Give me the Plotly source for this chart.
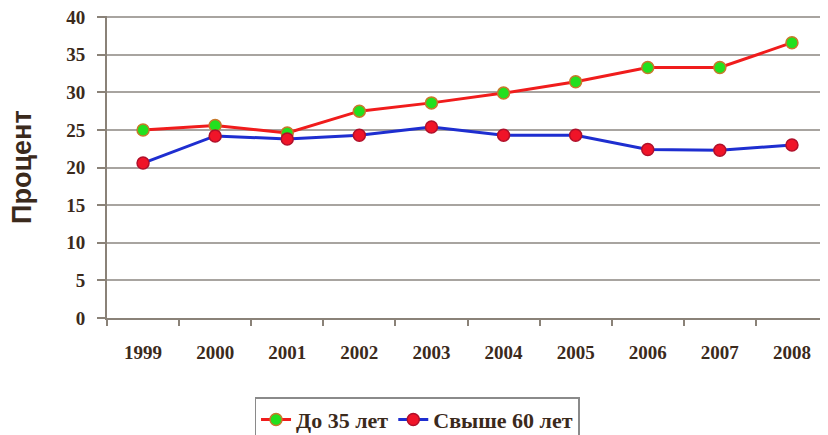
import plotly.graph_objects as go

years = ["1999", "2000", "2001", "2002", "2003", "2004", "2005", "2006", "2007", "2008"]
under35 = [25.0, 25.6, 24.6, 27.5, 28.6, 29.9, 31.4, 33.3, 33.3, 36.6]
over60 = [20.6, 24.2, 23.8, 24.3, 25.4, 24.3, 24.3, 22.4, 22.3, 23.0]
y_ticks = [0, 5, 10, 15, 20, 25, 30, 35, 40]

txt_color = "#3b2a1c"
serif = "Liberation Serif, Times New Roman, serif"

fig = go.Figure()
fig.add_trace(go.Scatter(
    x=years, y=under35, name="До 35 лет", mode="lines+markers",
    line=dict(color="#f01c1c", width=3),
    marker=dict(size=12, color="#22e01e", line=dict(color="#c8782a", width=1.5)),
))
fig.add_trace(go.Scatter(
    x=years, y=over60, name="Свыше 60 лет", mode="lines+markers",
    line=dict(color="#1e2ed0", width=3),
    marker=dict(size=12, color="#f01428", line=dict(color="#b0102a", width=1.5)),
))

fig.update_layout(
    width=820, height=427,
    margin=dict(l=99, r=0, t=8, b=117, autoexpand=False),
    paper_bgcolor="white", plot_bgcolor="white",
    showlegend=True,
    legend=dict(
        orientation="h", x=0.43, xanchor="center", y=-0.262, yanchor="top",
        font=dict(family=serif, size=22, color=txt_color, weight="bold"),
        bordercolor="#8a8a8a", borderwidth=1.5, bgcolor="white",
        tracegroupgap=0, itemwidth=30,
    ),
    xaxis=dict(
        type="category", showgrid=False, showline=True, linecolor="#8a8278", linewidth=2,
        ticks="outside", ticklen=6, tickwidth=2, tickcolor="#8a8278", tickson="boundaries",
        tickfont=dict(family=serif, size=19, color=txt_color, weight="bold"),
        ticklabelstandoff=16, range=[-0.5, 9.5], automargin=False,
    ),
    yaxis=dict(
        range=[0, 40.15], tickvals=y_ticks, showgrid=True, gridcolor="#a8a4a0", gridwidth=2,
        showline=True, linecolor="#8a8278", linewidth=2, zeroline=False,
        ticks="outside", ticklen=8, tickwidth=2, tickcolor="#8a8278",
        tickfont=dict(family=serif, size=19, color=txt_color, weight="bold"),
        ticklabelstandoff=8, automargin=False, ticklabeloverflow="allow",
    ),
    annotations=[dict(
        text="Процент", textangle=-90, xref="paper", yref="paper",
        x=-0.118, y=0.5, xanchor="center", yanchor="middle", showarrow=False,
        font=dict(family="Liberation Sans, Arial, sans-serif", size=27, color=txt_color, weight="bold"),
    )],
)

fig.write_html("out.html")
